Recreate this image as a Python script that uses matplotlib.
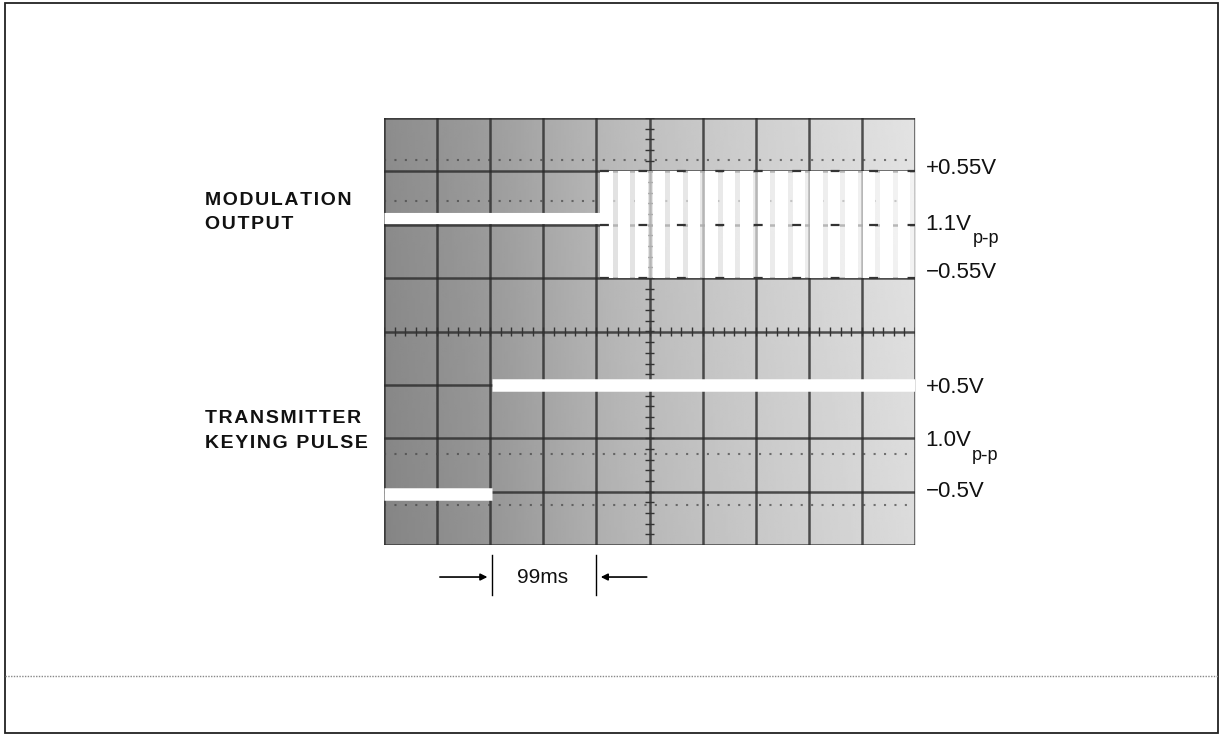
import matplotlib.pyplot as plt
import numpy as np
from matplotlib.patches import Rectangle

# scope screen: 10 x 8 divisions, y from -4 to +4
n_cols = 10
n_rows = 8

# modulation output trace (divisions)
mod_flat_level = 2.12
mod_burst_start = 4.07
mod_burst_end = 10.0
mod_high = 3.0
mod_low = 1.0
mod_cycles = 18

# transmitter keying pulse (divisions)
key_low = -3.05
key_high = -1.0
key_step_x = 2.03

# dotted reference lines seen on the graticule
dotted_rows = [3.22, 2.45, -2.3, -3.25]

left_labels = ["MODULATION\nOUTPUT", "TRANSMITTER\nKEYING PULSE"]
left_label_y = [2.62, -1.48]
right_labels = ["+0.55V", "1.1V", "\u22120.55V", "+0.5V", "1.0V", "\u22120.5V"]
right_subs = ["", "p\u2011p", "", "", "p\u2011p", ""]
right_label_y = [3.06, 2.01, 1.11, -1.04, -2.05, -2.99]

FONT = ["Liberation Sans", "DejaVu Sans"]

fig = plt.figure(figsize=(12.23, 7.36), dpi=100)
fig.patch.set_facecolor("white")

# outer frame and separator line
frame = fig.add_axes([0, 0, 1, 1])
frame.set_xlim(0, 1223)
frame.set_ylim(736, 0)
frame.axis("off")
frame.add_patch(Rectangle((5, 3), 1213, 730, fill=False, ec="#222222", lw=1.3))
frame.plot([5, 1218], [676, 676], color="#888888", lw=1, ls=(0, (1, 1)))

ax = fig.add_axes([384 / 1223, 1 - 545 / 736, 531 / 1223, 427 / 736])
ax.set_xlim(0, n_cols)
ax.set_ylim(-4, 4)
ax.axis("off")

# shaded screen: dark on the left, lighter to the right
gx = np.linspace(0, 1, 200)
gy = np.linspace(0, 1, 160)
GX, GY = np.meshgrid(gx, gy)
shade = 0.55 + 0.31 * GX ** 0.8 + 0.03 * GY - 0.05 * np.exp(-((GX - 0.15) ** 2) / 0.05)
ax.imshow(shade, cmap="gray", vmin=0, vmax=1, extent=[0, n_cols, -4, 4],
          origin="lower", aspect="auto", zorder=0, interpolation="bilinear")

# graticule
for i in range(n_cols + 1):
    ax.axvline(i, color="#2a2a2a", lw=1.8, alpha=0.8, zorder=1)
for j in range(n_rows + 1):
    ax.axhline(j - 4, color="#2a2a2a", lw=1.8, alpha=0.8, zorder=1)
for y in dotted_rows:
    ax.axhline(y, color="#444444", lw=1.5, ls=(0, (1, 4)), alpha=0.7, zorder=1)
minor = np.arange(0, n_cols + 0.01, 0.2)
ax.vlines(minor, -0.08, 0.08, color="#333333", lw=1, zorder=1)
minor_y = np.arange(-4, 4.01, 0.2)
ax.hlines(minor_y, 4.92, 5.08, color="#333333", lw=1, zorder=1)

# modulation output: flat then burst
ax.plot([0, mod_burst_start], [mod_flat_level, mod_flat_level], color="white",
        lw=8, solid_capstyle="butt", zorder=3)
period = (mod_burst_end - mod_burst_start) / mod_cycles
for k in range(mod_cycles):
    x0 = mod_burst_start + k * period
    ax.fill_between([x0, x0 + 0.72 * period], mod_low, mod_high,
                    color="white", lw=0, zorder=2)
    ax.fill_between([x0 + 0.72 * period, x0 + period], mod_low, mod_high,
                    color="white", alpha=0.6, lw=0, zorder=2)
for y in [mod_high, (mod_high + mod_low) / 2, mod_low]:
    ax.plot([mod_burst_start, mod_burst_end], [y, y], color="#333333", lw=1.6,
            ls=(0, (4, 13.3)), zorder=3)

# keying pulse
ax.plot([0, key_step_x], [key_low, key_low], color="white", lw=9,
        solid_capstyle="butt", zorder=3)
ax.plot([key_step_x, n_cols], [key_high, key_high], color="white", lw=9,
        solid_capstyle="butt", zorder=3)

# labels
for txt, y in zip(left_labels, left_label_y):
    spaced = "\n".join("\u200a".join(line) for line in txt.split("\n"))
    ax.text(-3.38, y, spaced, ha="left", va="top", fontsize=14, fontweight="bold",
            color="#111111", linespacing=1.6, family=FONT)
for txt, sub, y in zip(right_labels, right_subs, right_label_y):
    t = ax.text(10.2, y, txt, ha="left", va="center", fontsize=16,
                color="#111111", family=FONT)
    if sub:
        ax.annotate(sub, xy=(1, 0), xycoords=t, xytext=(0.5, -3),
                    textcoords="offset points", ha="left", va="center",
                    fontsize=13, color="#111111", family=FONT)

# 99ms time marker
ax.plot([2.03, 2.03], [-4.18, -4.93], color="black", lw=1, clip_on=False)
ax.plot([4.0, 4.0], [-4.18, -4.93], color="black", lw=1, clip_on=False)
ax.annotate("", xy=(2.0, -4.6), xytext=(1.0, -4.6),
            arrowprops=dict(arrowstyle="-|>", color="black", lw=1.2), annotation_clip=False)
ax.annotate("", xy=(4.03, -4.6), xytext=(5.0, -4.6),
            arrowprops=dict(arrowstyle="-|>", color="black", lw=1.2), annotation_clip=False)
ax.text(2.98, -4.6, "99ms", ha="center", va="center", fontsize=15,
        color="#111111", family=FONT)

fig.savefig("out.png", dpi=100)
